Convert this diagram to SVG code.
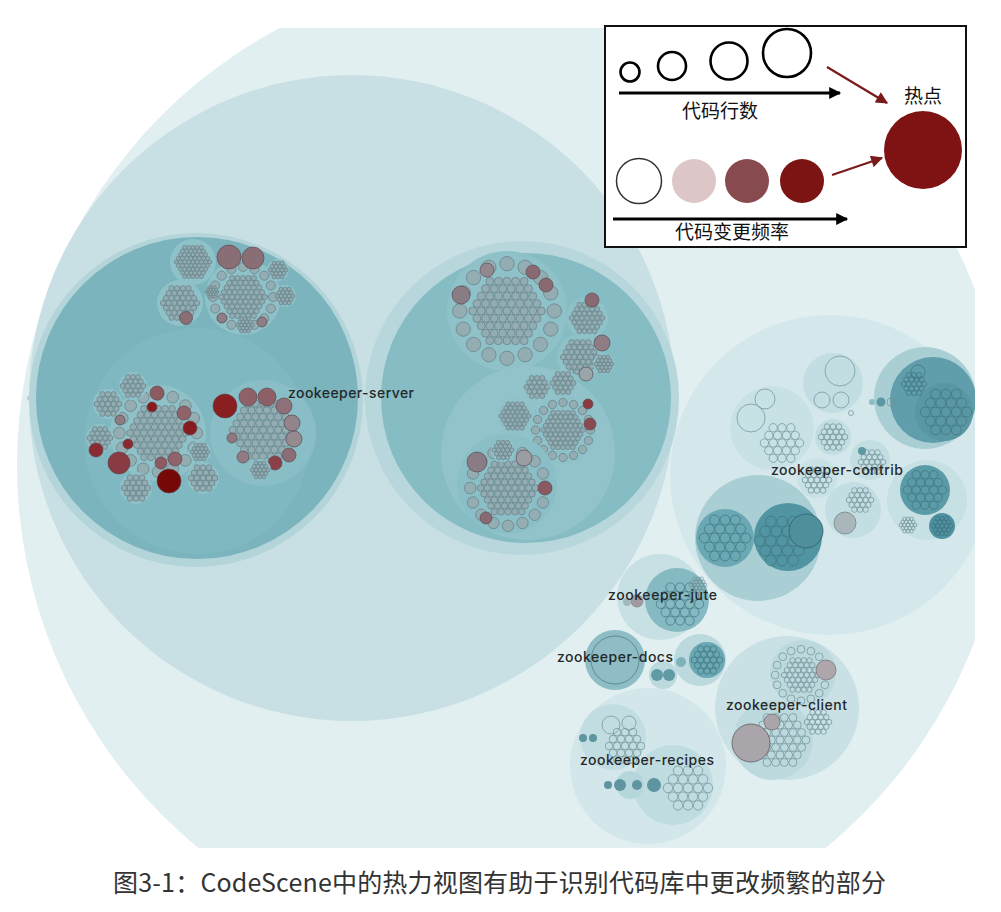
<svg xmlns="http://www.w3.org/2000/svg" width="1001" height="912" viewBox="0 0 1001 912">
<style>
defs circle{vector-effect:non-scaling-stroke}
.g{fill:#94adb3;stroke:#6a848b;stroke-width:0.8}
.o{fill:none;stroke:#6f8f95;stroke-width:0.7}
.od{fill:none;stroke:#3d727e;stroke-width:0.7}
.bk{fill:#8fc1c8}
.bl{fill:#c3dee2}
.ms{stroke:#5a4a50;stroke-width:0.7}
.lbl{font-family:Inter,"Liberation Sans",Arial,sans-serif;font-size:14px;font-weight:500;fill:#24282a}
.cj{font-family:"Noto Sans CJK SC","Noto Sans",sans-serif;fill:#111}
</style>
<defs>
<clipPath id="clip"><rect x="0" y="28" width="975" height="820"/></clipPath>
<g id="h19">
<circle r="0.19"/>
<circle cx="0.4" r="0.19"/><circle cx="0.2" cy="0.346" r="0.19"/><circle cx="-0.2" cy="0.346" r="0.19"/><circle cx="-0.4" r="0.19"/><circle cx="-0.2" cy="-0.346" r="0.19"/><circle cx="0.2" cy="-0.346" r="0.19"/>
<circle cx="0.8" r="0.19"/><circle cx="0.4" cy="0.693" r="0.19"/><circle cx="-0.4" cy="0.693" r="0.19"/><circle cx="-0.8" r="0.19"/><circle cx="-0.4" cy="-0.693" r="0.19"/><circle cx="0.4" cy="-0.693" r="0.19"/>
<circle cx="0.6" cy="0.346" r="0.19"/><circle cy="0.693" r="0.19"/><circle cx="-0.6" cy="0.346" r="0.19"/><circle cx="-0.6" cy="-0.346" r="0.19"/><circle cy="-0.693" r="0.19"/><circle cx="0.6" cy="-0.346" r="0.19"/>
</g>
<g id="h37">
<circle r="0.125"/>
<circle cx="0.27" r="0.125"/><circle cx="0.135" cy="0.234" r="0.125"/><circle cx="-0.135" cy="0.234" r="0.125"/><circle cx="-0.27" r="0.125"/><circle cx="-0.135" cy="-0.234" r="0.125"/><circle cx="0.135" cy="-0.234" r="0.125"/>
<circle cx="0.54" r="0.125"/><circle cx="0.27" cy="0.468" r="0.125"/><circle cx="-0.27" cy="0.468" r="0.125"/><circle cx="-0.54" r="0.125"/><circle cx="-0.27" cy="-0.468" r="0.125"/><circle cx="0.27" cy="-0.468" r="0.125"/>
<circle cx="0.405" cy="0.234" r="0.125"/><circle cy="0.468" r="0.125"/><circle cx="-0.405" cy="0.234" r="0.125"/><circle cx="-0.405" cy="-0.234" r="0.125"/><circle cy="-0.468" r="0.125"/><circle cx="0.405" cy="-0.234" r="0.125"/>
<circle cx="0.81" r="0.125"/><circle cx="0.405" cy="0.701" r="0.125"/><circle cx="-0.405" cy="0.701" r="0.125"/><circle cx="-0.81" r="0.125"/><circle cx="-0.405" cy="-0.701" r="0.125"/><circle cx="0.405" cy="-0.701" r="0.125"/>
<circle cx="0.675" cy="0.234" r="0.125"/><circle cx="0.54" cy="0.468" r="0.125"/><circle cx="0.135" cy="0.701" r="0.125"/><circle cx="-0.135" cy="0.701" r="0.125"/><circle cx="-0.54" cy="0.468" r="0.125"/><circle cx="-0.675" cy="0.234" r="0.125"/>
<circle cx="-0.675" cy="-0.234" r="0.125"/><circle cx="-0.54" cy="-0.468" r="0.125"/><circle cx="-0.135" cy="-0.701" r="0.125"/><circle cx="0.135" cy="-0.701" r="0.125"/><circle cx="0.54" cy="-0.468" r="0.125"/><circle cx="0.675" cy="-0.234" r="0.125"/>
</g>
<g id="h61">
<use href="#h37" transform="scale(0.7407)"/>
<circle cx="0.8" r="0.0926"/><circle cx="0.7" cy="0.173" r="0.0926"/><circle cx="0.6" cy="0.346" r="0.0926"/><circle cx="0.5" cy="0.52" r="0.0926"/>
<circle cx="0.4" cy="0.693" r="0.0926"/><circle cx="0.2" cy="0.693" r="0.0926"/><circle cy="0.693" r="0.0926"/><circle cx="-0.2" cy="0.693" r="0.0926"/>
<circle cx="-0.4" cy="0.693" r="0.0926"/><circle cx="-0.5" cy="0.52" r="0.0926"/><circle cx="-0.6" cy="0.346" r="0.0926"/><circle cx="-0.7" cy="0.173" r="0.0926"/>
<circle cx="-0.8" r="0.0926"/><circle cx="-0.7" cy="-0.173" r="0.0926"/><circle cx="-0.6" cy="-0.346" r="0.0926"/><circle cx="-0.5" cy="-0.52" r="0.0926"/>
<circle cx="-0.4" cy="-0.693" r="0.0926"/><circle cx="-0.2" cy="-0.693" r="0.0926"/><circle cy="-0.693" r="0.0926"/><circle cx="0.2" cy="-0.693" r="0.0926"/>
<circle cx="0.4" cy="-0.693" r="0.0926"/><circle cx="0.5" cy="-0.52" r="0.0926"/><circle cx="0.6" cy="-0.346" r="0.0926"/><circle cx="0.7" cy="-0.173" r="0.0926"/>
</g>
<g id="r16">
<circle cx="0.86" r="0.13"/><circle cx="0.795" cy="0.329" r="0.13"/><circle cx="0.608" cy="0.608" r="0.13"/><circle cx="0.329" cy="0.795" r="0.13"/>
<circle cy="0.86" r="0.13"/><circle cx="-0.329" cy="0.795" r="0.13"/><circle cx="-0.608" cy="0.608" r="0.13"/><circle cx="-0.795" cy="0.329" r="0.13"/>
<circle cx="-0.86" r="0.13"/><circle cx="-0.795" cy="-0.329" r="0.13"/><circle cx="-0.608" cy="-0.608" r="0.13"/><circle cx="-0.329" cy="-0.795" r="0.13"/>
<circle cy="-0.86" r="0.13"/><circle cx="0.329" cy="-0.795" r="0.13"/><circle cx="0.608" cy="-0.608" r="0.13"/><circle cx="0.795" cy="-0.329" r="0.13"/>
</g>
<g id="ros"><use href="#r16"/><use href="#h37" transform="scale(0.7)"/></g>
<g id="ros2"><use href="#r16"/><use href="#h61" transform="scale(0.78)"/></g>
<marker id="ab" viewBox="0 0 10 10" refX="9" refY="5" markerWidth="14" markerHeight="12" markerUnits="userSpaceOnUse" orient="auto"><path d="M0,0 L10,5 L0,10 z" fill="#000"/></marker>
<marker id="ar" viewBox="0 0 10 10" refX="9" refY="5" markerWidth="14" markerHeight="12" markerUnits="userSpaceOnUse" orient="auto"><path d="M0,0 L10,5 L0,10 z" fill="#7a1a1a"/></marker>
</defs>

<g id="diagram" clip-path="url(#clip)">
<g id="root"><circle cx="512" cy="465" r="495" fill="#e1eff1"/></g>

<g id="zookeeper-server">
<circle cx="352" cy="398" r="323" fill="#c8e0e4"/>
<circle cx="30" cy="398" r="2.5" fill="#c0d4d8" stroke="#9fb4b8" stroke-width="0.6"/>
<circle cx="368" cy="400" r="3" fill="#b3cbd0" stroke="#93aab0" stroke-width="0.6"/>
<circle cx="374" cy="401" r="2.5" fill="#b3cbd0" stroke="#93aab0" stroke-width="0.6"/>

<g id="server-left">
<circle cx="196" cy="400" r="167" fill="#b3d4d9"/>
<circle cx="197" cy="398" r="161" fill="#7bb4bd"/>
<circle class="bk" cx="193" cy="262" r="23"/>
<circle class="bk" cx="180" cy="303" r="23"/>
<circle class="bk" cx="243" cy="297" r="38"/>
<circle class="bk" cx="278" cy="270" r="11"/>
<circle class="bk" cx="285" cy="296" r="11"/>
<use href="#h61" class="g" transform="translate(193,262) scale(21)"/>
<use href="#h37" class="g" transform="translate(180,303) scale(21)"/>
<use href="#ros2" class="g" transform="translate(243,297) scale(35)"/>
<use href="#h19" class="g" transform="translate(278,270) scale(10)"/>
<use href="#h19" class="g" transform="translate(285,296) scale(10)"/>
<use href="#h19" class="g" transform="translate(212,292) scale(7)"/>
<use href="#h19" class="g" transform="translate(245,325) scale(9)"/>
<circle class="ms" cx="229" cy="257" r="12" fill="#8a6e76"/>
<circle class="ms" cx="253" cy="258" r="11" fill="#8a6e76"/>
<circle class="ms" cx="186" cy="318" r="6.5" fill="#8a6e76"/>
<circle class="ms" cx="262" cy="322" r="5" fill="#8e7d84"/>
<circle class="ms" cx="222" cy="318" r="5" fill="#8e7d84"/>

<circle cx="197" cy="441" r="113" fill="#80b8c1"/>
<circle cx="263" cy="433" r="53" fill="#89bec6"/>
<circle class="bk" cx="158" cy="433" r="48"/>
<use href="#ros2" class="g" transform="translate(158,433) scale(45)"/>
<circle class="bk" cx="133" cy="386" r="14"/><use href="#h19" class="g" transform="translate(133,386) scale(13)"/>
<circle class="bk" cx="108" cy="404" r="15"/><use href="#h19" class="g" transform="translate(108,404) scale(14)"/>
<circle class="bk" cx="100" cy="438" r="14"/><use href="#h19" class="g" transform="translate(100,438) scale(13)"/>
<circle class="bk" cx="136" cy="488" r="16"/><use href="#h19" class="g" transform="translate(136,488) scale(15)"/>
<circle class="bk" cx="203" cy="478" r="16"/><use href="#h19" class="g" transform="translate(203,478) scale(15)"/>
<circle class="bk" cx="200" cy="452" r="11"/><use href="#h19" class="g" transform="translate(200,452) scale(10)"/>
<circle class="ms" cx="96" cy="450" r="7" fill="#8b2b31"/>
<circle class="ms" cx="119" cy="463" r="11" fill="#8a3a42"/>
<circle class="ms" cx="169" cy="481" r="12" fill="#760808"/>
<circle class="ms" cx="152" cy="407" r="5" fill="#8b1a1a"/>
<circle class="ms" cx="190" cy="428" r="7" fill="#861c20"/>
<circle class="ms" cx="128" cy="444" r="5" fill="#8b2a2e"/>
<circle class="ms" cx="157" cy="393" r="7" fill="#8d5a61"/>
<circle class="ms" cx="184" cy="413" r="7" fill="#8e6369"/>
<circle class="ms" cx="161" cy="463" r="6" fill="#8d5a61"/>
<circle class="ms" cx="175" cy="459" r="7" fill="#8e6369"/>
<circle class="ms" cx="120" cy="420" r="5" fill="#8e7a82"/>

<use href="#h61" class="g" transform="translate(263,430) scale(38)"/>
<circle class="ms" cx="225" cy="406" r="12" fill="#8a1f22"/>
<circle class="ms" cx="248" cy="397" r="9" fill="#8e6068"/>
<circle class="ms" cx="267" cy="397" r="9" fill="#8d5f67"/>
<circle class="ms" cx="284" cy="406" r="8" fill="#8e7078"/>
<circle class="ms" cx="292" cy="423" r="8" fill="#93838a"/>
<circle class="ms" cx="294" cy="439" r="8" fill="#958a90"/>
<circle class="ms" cx="289" cy="455" r="7" fill="#8b6d75"/>
<circle class="ms" cx="275" cy="463" r="7" fill="#8a4048"/>
<circle class="ms" cx="243" cy="457" r="6" fill="#8f7c83"/>
<circle class="ms" cx="232" cy="438" r="5" fill="#8e7880"/>
<circle class="bk" cx="260" cy="470" r="11"/><use href="#h19" class="g" transform="translate(260,470) scale(10)"/>
</g>

<g id="server-right">
<circle cx="522" cy="398" r="157" fill="#b8d7dc"/>
<circle cx="526" cy="398" r="145" fill="#86bcc4"/>
<circle class="bk" cx="507" cy="311" r="60"/>
<use href="#ros2" class="g" transform="translate(507,311) scale(55)"/>
<circle class="ms" cx="461" cy="295" r="9" fill="#8a7c84"/>
<circle class="ms" cx="487" cy="270" r="7" fill="#93888e"/>
<circle class="ms" cx="533" cy="272" r="7" fill="#8a6a72"/>
<circle class="ms" cx="546" cy="285" r="7" fill="#8a6a72"/>
<circle class="bk" cx="587" cy="318" r="21"/><use href="#h37" class="g" transform="translate(587,318) scale(19)"/>
<circle class="ms" cx="592" cy="300" r="7" fill="#8a6a72"/>
<circle class="bk" cx="580" cy="357" r="23"/><use href="#h37" class="g" transform="translate(580,357) scale(21)"/>
<circle class="ms" cx="602" cy="343" r="8" fill="#8f7c84"/>
<circle class="bk" cx="604" cy="364" r="11"/><use href="#h19" class="g" transform="translate(604,364) scale(10)"/>
<circle class="ms" cx="586" cy="374" r="7" fill="#9aa5aa"/>
<circle cx="528" cy="453" r="87" fill="#92c3ca"/>
<circle class="bk" cx="537" cy="387" r="14"/><use href="#h19" class="g" transform="translate(537,387) scale(13)"/>
<circle class="bk" cx="563" cy="383" r="14"/><use href="#h19" class="g" transform="translate(563,383) scale(13)"/>
<circle class="bk" cx="515" cy="416" r="18"/><use href="#h37" class="g" transform="translate(515,416) scale(17)"/>
<circle class="bk" cx="563" cy="430" r="34"/><use href="#ros2" class="g" transform="translate(563,430) scale(32)"/>
<circle class="ms" cx="588" cy="404" r="5" fill="#8a3a40"/>
<circle class="ms" cx="590" cy="424" r="6" fill="#8a4a50"/>
<circle cx="507" cy="484" r="50" fill="#8abfc7"/>
<use href="#ros2" class="g" transform="translate(508,488) scale(44)"/>
<circle class="bk" cx="503" cy="450" r="12"/><use href="#h19" class="g" transform="translate(503,450) scale(11)"/>
<circle class="ms" cx="477" cy="462" r="10" fill="#8a7c84"/>
<circle class="ms" cx="524" cy="458" r="8" fill="#9a9ea3"/>
<circle class="ms" cx="545" cy="488" r="7" fill="#8a5a62"/>
<circle class="ms" cx="486" cy="518" r="6" fill="#8a6a72"/>
</g>
</g>

<g id="zookeeper-contrib">
<circle cx="830" cy="475" r="160" fill="#d4e8eb"/>
<circle cx="925" cy="398" r="51" fill="#a9cfd5"/>
<circle cx="933" cy="400" r="43" fill="#5f9eaa"/>
<circle cx="944" cy="412" r="29" fill="#5a97a4"/>
<use href="#h19" class="od" transform="translate(946,412) scale(26)"/>
<use href="#h19" class="od" transform="translate(914,384) scale(13)"/>
<circle class="od" cx="918" cy="372" r="7"/>
<circle cx="881" cy="402" r="4.5" fill="#5d97a3"/>
<circle cx="872" cy="402" r="3" fill="#8fbbc2"/>
<circle class="o" cx="891" cy="402" r="4"/>
<circle class="bl" cx="833" cy="383" r="30"/>
<circle class="o" cx="840" cy="371" r="15"/>
<circle class="o" cx="822" cy="400" r="8"/>
<circle class="o" cx="841" cy="400" r="8"/>
<circle class="o" cx="851" cy="413" r="2.5"/>
<circle cx="772" cy="428" r="42" fill="#c8e1e5"/>
<circle class="o" cx="751" cy="418" r="14"/>
<circle class="o" cx="765" cy="399" r="10"/>
<use href="#h19" class="o" transform="translate(782,443) scale(22)"/>
<circle class="bl" cx="833" cy="437" r="18"/>
<use href="#h19" class="o" transform="translate(833,437) scale(15)"/>
<circle class="bl" cx="870" cy="460" r="20"/>
<circle cx="862" cy="451" r="4" fill="#5e9aa5"/>
<use href="#h19" class="o" transform="translate(872,462) scale(14)"/>
<circle cx="817" cy="478" r="20" fill="#c8e1e5"/>
<use href="#h19" class="o" transform="translate(817,480) scale(15)"/>
<circle cx="927" cy="500" r="40" fill="#c6e0e4"/>
<circle cx="925" cy="490" r="25" fill="#5b9ba7"/>
<use href="#h19" class="od" transform="translate(925,490) scale(22)"/>
<circle cx="942" cy="526" r="13" fill="#4f91a0"/>
<use href="#h19" class="od" transform="translate(942,526) scale(11)"/>
<use href="#h19" class="o" transform="translate(908,525) scale(9)"/>
<circle class="bl" cx="853" cy="510" r="28"/>
<circle cx="845" cy="523" r="11" fill="#a9b6ba" stroke="#6f7f84" stroke-width="0.7"/>
<use href="#h19" class="o" transform="translate(860,500) scale(14)"/>
<circle cx="758" cy="538" r="63" fill="#a9cfd5"/>
<circle cx="725" cy="538" r="29" fill="#6aa8b3"/>
<use href="#h19" class="od" transform="translate(725,538) scale(26)"/>
<circle cx="788" cy="537" r="34" fill="#5195a2"/>
<use href="#h19" class="od" transform="translate(782,541) scale(28)"/>
<circle cx="806" cy="531" r="17" fill="#4f8f9c" stroke="#2f5f69" stroke-width="0.8"/>
</g>

<g id="zookeeper-jute">
<circle cx="660" cy="597" r="43" fill="#c6e0e4"/>
<circle cx="677" cy="600" r="32" fill="#85bac3"/>
<use href="#h19" class="od" transform="translate(680,604) scale(24)"/>
<use href="#h19" class="o" transform="translate(698,585) scale(9)"/>
<circle cx="637" cy="601" r="6" fill="#a29aa0" stroke="#7b7479" stroke-width="0.6"/>
<circle cx="627" cy="602" r="4" fill="#9fb9be"/>
</g>

<g id="zookeeper-docs">
<circle cx="615" cy="660" r="30" fill="#8ebdc5"/>
<circle cx="615" cy="660" r="24" fill="none" stroke="#4f7f88" stroke-width="0.8"/>
<circle cx="663" cy="675" r="14" fill="#bcd9de"/>
<circle cx="657" cy="675" r="6" fill="#5f9aa5"/>
<circle cx="669" cy="675" r="6" fill="#5f9aa5"/>
<circle cx="700" cy="660" r="26" fill="#bcd9de"/>
<circle cx="707" cy="660" r="18" fill="#6aa8b3"/>
<use href="#h19" class="od" transform="translate(707,660) scale(16)"/>
<circle cx="681" cy="662" r="5" fill="#7fb2bb"/>
</g>

<g id="zookeeper-client">
<circle cx="787" cy="708" r="72" fill="#c9e1e5"/>
<circle cx="803" cy="673" r="33" fill="#bcd9de"/>
<use href="#ros" class="o" transform="translate(801,675) scale(30)"/>
<circle cx="773" cy="740" r="40" fill="#bcd9de"/>
<use href="#h37" class="o" transform="translate(780,740) scale(32)"/>
<use href="#h19" class="o" transform="translate(818,722) scale(14)"/>
<circle cx="826" cy="670" r="10" fill="#ada6ab" stroke="#6f6a6e" stroke-width="0.7"/>
<circle cx="751" cy="743" r="19" fill="#aaa5aa" stroke="#5f5a5e" stroke-width="0.8"/>
<circle cx="772" cy="722" r="8" fill="#aaa5aa" stroke="#6f6a6e" stroke-width="0.7"/>
</g>

<g id="zookeeper-recipes">
<circle cx="648" cy="766" r="78" fill="#d3e7ea"/>
<circle cx="613" cy="737" r="33" fill="#c2dde1"/>
<use href="#h19" class="o" transform="translate(625,746) scale(20)"/>
<circle class="o" cx="611" cy="725" r="9"/>
<circle class="o" cx="629" cy="723" r="7"/>
<circle cx="673" cy="785" r="40" fill="#bfdce0"/>
<use href="#h19" class="o" transform="translate(688,788) scale(25)"/>
<circle cx="583" cy="738" r="4" fill="#5e95a0"/>
<circle cx="593" cy="738" r="4" fill="#5e95a0"/>
<circle cx="630" cy="785" r="14" fill="#b5d6db"/>
<circle cx="608" cy="785" r="4" fill="#5e95a0"/>
<circle cx="620" cy="785" r="6" fill="#5e95a0"/>
<circle cx="637" cy="785" r="5" fill="#5e95a0"/>
<circle cx="654" cy="785" r="7" fill="#5e95a0"/>
</g>
</g>

<g id="labels">
<text class="lbl" x="288" y="398" textLength="126">zookeeper-server</text>
<text class="lbl" x="771" y="475" textLength="132">zookeeper-contrib</text>
<text class="lbl" x="608" y="600" textLength="109">zookeeper-jute</text>
<text class="lbl" x="557" y="662" textLength="116">zookeeper-docs</text>
<text class="lbl" x="726" y="710" textLength="121">zookeeper-client</text>
<text class="lbl" x="580" y="765" textLength="134">zookeeper-recipes</text>
</g>

<g id="legend">
<rect x="605" y="26" width="361" height="221" fill="#fff" stroke="#111" stroke-width="2"/>
<circle cx="630" cy="72" r="9.5" fill="none" stroke="#000" stroke-width="2.6"/>
<circle cx="672" cy="66" r="14" fill="none" stroke="#000" stroke-width="2.6"/>
<circle cx="729" cy="61" r="18.5" fill="none" stroke="#000" stroke-width="2.6"/>
<circle cx="787" cy="53" r="24" fill="none" stroke="#000" stroke-width="2.6"/>
<line x1="619" y1="93" x2="840" y2="93" stroke="#000" stroke-width="3" marker-end="url(#ab)"/>
<text class="cj" x="720" y="118" font-size="19" text-anchor="middle">代码行数</text>
<line x1="827" y1="67" x2="887" y2="103" stroke="#7a1a1a" stroke-width="2.2" marker-end="url(#ar)"/>
<text class="cj" x="923" y="103" font-size="19" text-anchor="middle">热点</text>
<circle cx="923" cy="150" r="39" fill="#7f1212"/>
<circle cx="639" cy="181" r="22.5" fill="#fff" stroke="#333" stroke-width="1.5"/>
<circle cx="694" cy="181" r="22" fill="#dcc6c8"/>
<circle cx="747" cy="181" r="22" fill="#874a4f"/>
<circle cx="802" cy="181" r="22" fill="#7d1414"/>
<line x1="832" y1="175" x2="882" y2="158" stroke="#7a1a1a" stroke-width="2.2" marker-end="url(#ar)"/>
<line x1="613" y1="219" x2="847" y2="219" stroke="#000" stroke-width="3" marker-end="url(#ab)"/>
<text class="cj" x="732" y="239" font-size="19" text-anchor="middle">代码变更频率</text>
</g>

<text id="caption" x="113" y="892" font-family="'Noto Sans CJK SC','Noto Sans',sans-serif" font-size="25" fill="#333" textLength="773">图3-1：CodeScene中的热力视图有助于识别代码库中更改频繁的部分</text>
</svg>
